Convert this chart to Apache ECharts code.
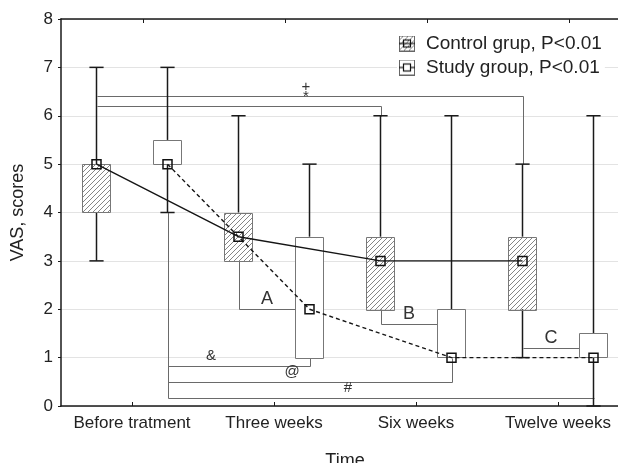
<!DOCTYPE html>
<html><head><meta charset="utf-8">
<script src="https://cdn.jsdelivr.net/npm/echarts@6/dist/echarts.min.js"></script>
<style>html,body{margin:0;padding:0;background:#fff}#c{width:618px;height:463px}</style>
</head><body><div id="c"></div>
<script>
// ---------- data ----------
const categories = ['Before tratment', 'Three weeks', 'Six weeks', 'Twelve weeks'];
const groupNames = ['Control grup, P<0.01', 'Study group, P<0.01'];
const yTicks = [0, 1, 2, 3, 4, 5, 6, 7, 8];

const controlMin    = [3, 3, 2, 1];
const controlQ1     = [4, 3, 2, 2];
const controlMedian = [5, 3.5, 3, 3];
const controlQ3     = [5, 4, 3.5, 3.5];
const controlMax    = [7, 6, 6, 5];

const studyMin    = [4, 1, 1, 0];
const studyQ1     = [5, 1, 1, 1];
const studyMedian = [5, 2, 1, 1];
const studyQ3     = [5.5, 3.5, 2, 1.5];
const studyMax    = [7, 5, 6, 6];

// significance brackets: label, level, from [category, group], to [category, group]
const bracketLabels = ['+', '*', 'A', 'B', 'C', '&', '@', '#'];
const bracketLevels = [6.4, 6.2, 2, 1.7, 1.2, 0.83, 0.5, 0.17];
const bracketFrom = [[0, 0], [0, 0], [1, 0], [2, 0], [3, 0], [0, 1], [0, 1], [0, 1]];
const bracketTo   = [[3, 0], [2, 0], [1, 1], [2, 1], [3, 1], [1, 1], [2, 1], [3, 1]];
const bracketLabelAt = [1.225, 1.225, null, null, null, 0.556, 1.127, 1.52];

// ---------- layout / style ----------
const OFFSET = [-0.25, 0.25];
const HALF = 0.1, CAP = 0.05;
const FONT = 'Liberation Sans, Arial, sans-serif';
const stats = [
  [controlMin, controlQ1, controlMedian, controlQ3, controlMax],
  [studyMin, studyQ1, studyMedian, studyQ3, studyMax]
];

function hatchCanvas() {
  const c = document.createElement('canvas');
  c.width = 5; c.height = 5;
  const g = c.getContext('2d');
  g.strokeStyle = '#777'; g.lineWidth = 0.9;
  g.beginPath();
  g.moveTo(0, 5); g.lineTo(5, 0);
  g.moveTo(-1, 1); g.lineTo(1, -1);
  g.moveTo(4, 6); g.lineTo(6, 4);
  g.stroke();
  return c;
}
const hatch = hatchCanvas();
const hatchFill = { image: hatch, repeat: 'repeat' };

function legendIcon(hatched) {
  const c = document.createElement('canvas');
  c.width = 22; c.height = 16;
  const g = c.getContext('2d');
  g.fillStyle = '#fff'; g.fillRect(0, 0, 16, 16);
  if (hatched) { g.fillStyle = g.createPattern(hatch, 'repeat'); g.fillRect(0, 0, 16, 16); }
  g.strokeStyle = '#666'; g.lineWidth = 1; g.strokeRect(0.5, 0.5, 15, 15);
  g.strokeStyle = '#111'; g.lineWidth = 1.2;
  g.beginPath(); g.moveTo(0, 8); g.lineTo(16, 8); g.stroke();
  if (!hatched) { g.fillStyle = '#fff'; g.fillRect(4.5, 4.5, 7, 7); }
  g.strokeRect(4.5, 4.5, 7, 7);
  return 'image://' + c.toDataURL();
}

function boxSeries(gi) {
  const s = stats[gi];
  return {
    type: 'custom', name: 'box' + gi, xAxisIndex: 0, yAxisIndex: 0, z: 3, silent: true,
    data: categories.map((_, i) => [i, s[0][i], s[1][i], s[2][i], s[3][i], s[4][i]]),
    renderItem: function (params, api) {
      const x = api.value(0) + OFFSET[gi];
      const mn = api.value(1), q1 = api.value(2), q3 = api.value(4), mx = api.value(5);
      const hw = api.size([HALF, 0])[0], cw = api.size([CAP, 0])[0];
      const P = v => api.coord([x, v]);
      const kids = [];
      const wStyle = { stroke: '#1a1a1a', lineWidth: 1.5, fill: null };
      if (mx > q3) {
        const a = P(q3), b = P(mx);
        kids.push({ type: 'line', shape: { x1: a[0], y1: a[1], x2: b[0], y2: b[1] }, style: wStyle });
        kids.push({ type: 'line', shape: { x1: b[0] - cw, y1: b[1], x2: b[0] + cw, y2: b[1] }, style: wStyle });
      }
      if (mn < q1) {
        const a = P(q1), b = P(mn);
        kids.push({ type: 'line', shape: { x1: a[0], y1: a[1], x2: b[0], y2: b[1] }, style: wStyle });
        kids.push({ type: 'line', shape: { x1: b[0] - cw, y1: b[1], x2: b[0] + cw, y2: b[1] }, style: wStyle });
      }
      const top = P(q3), bot = P(q1);
      kids.push({
        type: 'rect',
        shape: { x: Math.round(top[0] - hw) + 0.5, y: Math.round(top[1]) + 0.5, width: Math.round(2 * hw), height: Math.round(bot[1] - top[1]) },
        style: { fill: gi === 0 ? hatchFill : '#fff', stroke: '#777', lineWidth: 1 }
      });
      return { type: 'group', children: kids };
    }
  };
}

function anchorX(ci, gi) { return ci + OFFSET[gi]; }

const bracketSeries = {
  type: 'custom', name: 'brackets', xAxisIndex: 0, yAxisIndex: 0, z: 2, silent: true,
  data: bracketLabels.map((_, i) => [i, bracketLevels[i]]),
  renderItem: function (params, api) {
    const i = api.value(0), lv = api.value(1);
    const [fc, fg] = bracketFrom[i], [tc, tg] = bracketTo[i];
    const fs = stats[fg], ts = stats[tg];
    const pts = [];
    const fx = anchorX(fc, fg);
    if (lv < fs[0][fc]) pts.push(api.coord([fx, fs[0][fc]]));
    else if (lv > fs[4][fc]) pts.push(api.coord([fx, fs[4][fc]]));
    pts.push(api.coord([fx, lv]));
    let tx = anchorX(tc, tg);
    let endY = null;
    if (tc === fc) {
      tx = tx - HALF;
    } else {
      if (lv < ts[0][tc]) endY = ts[0][tc];
      else if (lv > ts[4][tc]) endY = ts[4][tc];
    }
    pts.push(api.coord([tx, lv]));
    if (endY !== null) pts.push(api.coord([tx, endY]));
    const crisp = pts.map(p => [Math.round(p[0]) + 0.5, Math.round(p[1]) + 0.5]);
    const lx = bracketLabelAt[i] !== null ? bracketLabelAt[i] : (fx + tx) / 2;
    const lp = api.coord([lx, lv]);
    const big = tc === fc;
    return {
      type: 'group', children: [
        { type: 'polyline', shape: { points: crisp }, style: { stroke: '#6a6a6a', lineWidth: 1, fill: null } },
        { type: 'text', style: { text: bracketLabels[i], x: lp[0], y: lp[1] - (big ? 1 : 2), align: 'center', verticalAlign: 'bottom', fontSize: big ? 18 : 15, fontFamily: FONT, fill: '#333' } }
      ]
    };
  }
};

function medianSeries(gi) {
  return {
    type: 'line', name: groupNames[gi], xAxisIndex: 0, yAxisIndex: 0, z: 6, silent: true,
    data: stats[gi][2].map((v, i) => [i + OFFSET[gi], v]),
    symbol: 'rect', symbolSize: 9, showSymbol: true,
    lineStyle: { color: '#151515', width: 1.4, type: gi === 0 ? 'solid' : [4, 3] },
    itemStyle: { color: 'rgba(255,255,255,0)', borderColor: '#111', borderWidth: 1.5 },
    animation: false
  };
}

const chart = echarts.init(document.getElementById('c'), null, { renderer: 'canvas' });
chart.setOption({
  animation: false,
  backgroundColor: '#fff',
  textStyle: { fontFamily: FONT },
  grid: { left: 61, right: -11, top: 19, bottom: 57, containLabel: false, outerBoundsMode: 'none' },
  legend: {
    orient: 'vertical', left: 397, top: 32, selectedMode: false,
    backgroundColor: '#fff', padding: [2, 3, 2, 2], itemGap: 5,
    itemWidth: 22, itemHeight: 16,
    textStyle: { fontSize: 19, color: '#222', fontFamily: FONT },
    data: [
      { name: groupNames[0], icon: legendIcon(true) },
      { name: groupNames[1], icon: legendIcon(false) }
    ]
  },
  xAxis: [
    {
      type: 'value', position: 'bottom', min: -0.5, max: 3.5,
      name: 'Time', nameLocation: 'middle', nameGap: 46,
      nameTextStyle: { fontSize: 18, color: '#222', fontFamily: FONT },
      axisLine: { show: true, onZero: false, lineStyle: { color: '#1a1a1a', width: 1.5 } },
      axisTick: { show: true, inside: true, length: 4, customValues: categories.map((_, i) => i), lineStyle: { color: '#1a1a1a' } },
      axisLabel: { show: true, customValues: categories.map((_, i) => i), formatter: v => categories[Math.round(v)], fontSize: 17, color: '#222', margin: 9, fontFamily: FONT },
      splitLine: { show: false }
    },
    {
      type: 'value', position: 'top', min: -0.5, max: 3.5,
      axisLine: { show: true, onZero: false, lineStyle: { color: '#1a1a1a', width: 1.5 } },
      axisTick: { show: true, inside: true, length: 4, customValues: categories.map((_, i) => i + 0.08), lineStyle: { color: '#1a1a1a' } },
      axisLabel: { show: false },
      splitLine: { show: false }
    }
  ],
  yAxis: {
    type: 'value', min: 0, max: 8, interval: 1,
    name: 'VAS, scores', nameLocation: 'middle', nameGap: 34,
    nameTextStyle: { fontSize: 18, color: '#222', fontFamily: FONT },
    axisLine: { show: true, onZero: false, lineStyle: { color: '#1a1a1a', width: 1.5 } },
    axisTick: { show: true, inside: false, length: 3, lineStyle: { color: '#1a1a1a' } },
    axisLabel: { fontSize: 17, color: '#222', margin: 8, fontFamily: FONT, formatter: v => String(yTicks[v]) },
    splitLine: { show: true, lineStyle: { color: '#e3e3e3', width: 1 } }
  },
  series: [bracketSeries, boxSeries(0), boxSeries(1), medianSeries(0), medianSeries(1)]
});
</script></body></html>
